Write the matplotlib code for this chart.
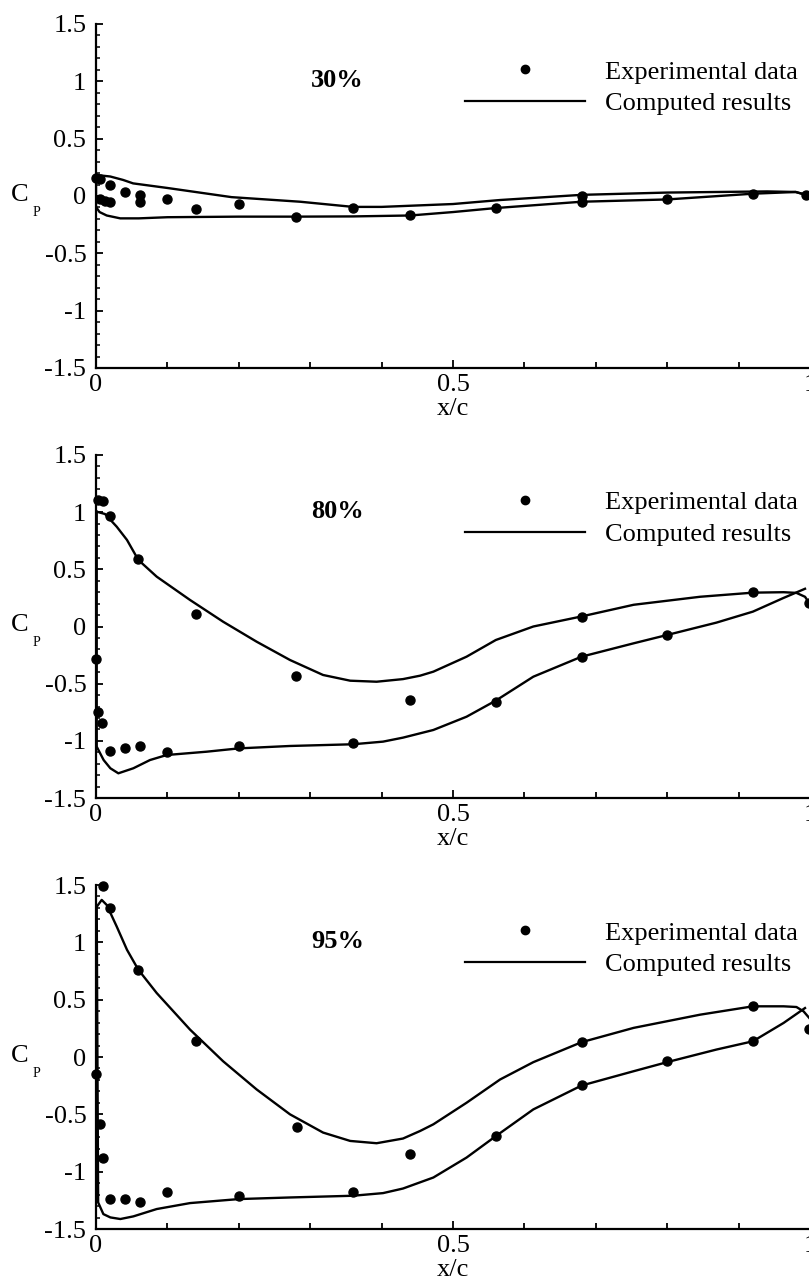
import matplotlib
matplotlib.use("Agg")
import matplotlib.pyplot as plt
from matplotlib.ticker import MultipleLocator, FixedLocator
from matplotlib.lines import Line2D

plt.rcParams['font.family'] = ['Liberation Serif', 'DejaVu Serif']

# ---------------- data ----------------
titles = ["30%", "80%", "95%"]

# 30% span
exp30_x = [0.0, 0.005, 0.02, 0.04, 0.062, 0.062, 0.10, 0.14, 0.20, 0.28, 0.36, 0.44,
           0.56, 0.68, 0.68, 0.80, 0.92, 0.995, 0.005, 0.013, 0.02]
exp30_cp = [0.157, 0.15, 0.096, 0.035, 0.01, -0.05, -0.03, -0.11, -0.07, -0.18, -0.105, -0.17,
            -0.105, 0.0, -0.05, -0.03, 0.02, 0.01, -0.03, -0.04, -0.055]
up30_x = [1.0, 0.98, 0.94, 0.80, 0.68, 0.566, 0.50, 0.44, 0.40, 0.36, 0.286, 0.19, 0.10, 0.052, 0.038, 0.02, 0.005, 0.0]
up30_cp = [0.0, 0.035, 0.04, 0.03, 0.01, -0.035, -0.07, -0.085, -0.095, -0.095, -0.05, -0.01, 0.07, 0.11, 0.14, 0.17, 0.18, 0.18]
lo30_x = [0.0, 0.0, 0.005, 0.015, 0.034, 0.06, 0.10, 0.20, 0.28, 0.36, 0.44, 0.50, 0.56, 0.68, 0.80, 0.92, 0.98, 1.0]
lo30_cp = [0.18, -0.095, -0.14, -0.17, -0.195, -0.195, -0.185, -0.18, -0.18, -0.178, -0.17, -0.14, -0.105, -0.05, -0.03, 0.02, 0.035, 0.0]

# 80% span
exp80_x = [0.0, 0.003, 0.01, 0.02, 0.059, 0.14, 0.28, 0.44, 0.003, 0.009, 0.02, 0.04, 0.061,
           0.10, 0.20, 0.36, 0.56, 0.68, 0.68, 0.80, 0.92, 0.998]
exp80_cp = [-0.28, 1.11, 1.10, 0.966, 0.587, 0.109, -0.433, -0.643, -0.745, -0.847, -1.086, -1.066, -1.045,
            -1.095, -1.045, -1.016, -0.657, 0.08, -0.264, -0.074, 0.299, 0.203]
up80_x = [0.9985, 0.993, 0.981, 0.963, 0.92, 0.846, 0.753, 0.68, 0.6125, 0.56, 0.519, 0.4725, 0.454, 0.430,
          0.393, 0.356, 0.318, 0.2717, 0.225, 0.178, 0.1317, 0.085, 0.0593, 0.0434, 0.029, 0.0126, 0.001]
up80_cp = [0.21, 0.26, 0.294, 0.30, 0.296, 0.26, 0.19, 0.088, 0.0, -0.118, -0.264, -0.395, -0.43, -0.46,
           -0.483, -0.474, -0.424, -0.293, -0.133, 0.042, 0.232, 0.436, 0.582, 0.757, 0.873, 0.984, 1.004]
lo80_x = [0.001, 0.001, 0.0107, 0.0201, 0.0313, 0.0523, 0.0756, 0.099, 0.155, 0.20, 0.2717, 0.36, 0.402, 0.430,
          0.4725, 0.519, 0.56, 0.6125, 0.68, 0.753, 0.80, 0.869, 0.92, 0.963, 0.993]
lo80_cp = [1.004, -1.051, -1.168, -1.240, -1.284, -1.240, -1.168, -1.124, -1.095, -1.066, -1.045, -1.030, -1.007, -0.972,
           -0.905, -0.789, -0.648, -0.439, -0.264, -0.147, -0.074, 0.034, 0.13, 0.25, 0.33]

# 95% span
exp95_x = [0.01, 0.02, 0.059, 0.14, 0.2815, 0.44, 0.0, 0.005, 0.01, 0.02, 0.04, 0.061, 0.10, 0.20, 0.36,
           0.56, 0.68, 0.68, 0.80, 0.92, 0.92, 0.998]
exp95_cp = [1.49, 1.297, 0.761, 0.143, -0.61, -0.848, -0.152, -0.587, -0.877, -1.239, -1.239, -1.268, -1.181, -1.21, -1.181,
            -0.688, 0.129, -0.248, -0.036, 0.442, 0.138, 0.245]
up95_x = [0.999, 0.991, 0.981, 0.963, 0.92, 0.846, 0.753, 0.68, 0.6125, 0.566, 0.519, 0.4725, 0.454, 0.430,
          0.393, 0.356, 0.318, 0.2717, 0.225, 0.178, 0.1317, 0.085, 0.0593, 0.0434, 0.029, 0.015, 0.008, 0.001]
up95_cp = [0.34, 0.398, 0.436, 0.442, 0.442, 0.369, 0.254, 0.129, -0.045, -0.196, -0.399, -0.587, -0.645, -0.711,
           -0.752, -0.732, -0.659, -0.50, -0.283, -0.037, 0.239, 0.558, 0.761, 0.935, 1.138, 1.326, 1.37, 1.31]
lo95_x = [0.001, 0.002, 0.003, 0.0103, 0.0201, 0.0341, 0.0523, 0.085, 0.1317, 0.20, 0.2717, 0.36, 0.402, 0.430,
          0.4725, 0.519, 0.5602, 0.6125, 0.68, 0.753, 0.8016, 0.869, 0.92, 0.963, 0.993]
lo95_cp = [1.31, 0.0, -1.268, -1.370, -1.399, -1.413, -1.39, -1.326, -1.274, -1.239, -1.225, -1.210, -1.187, -1.147,
           -1.051, -0.877, -0.689, -0.457, -0.249, -0.124, -0.042, 0.065, 0.137, 0.297, 0.427]

panels = [
    (exp30_x, exp30_cp, up30_x, up30_cp, lo30_x, lo30_cp),
    (exp80_x, exp80_cp, up80_x, up80_cp, lo80_x, lo80_cp),
    (exp95_x, exp95_cp, up95_x, up95_cp, lo95_x, lo95_cp),
]

legend_labels = ["Experimental data", "Computed results"]
xtick_values = [0, 0.5, 1]
xtick_labels = ["0", "0.5", "1"]
ytick_values = [-1.5, -1, -0.5, 0, 0.5, 1, 1.5]
ytick_labels = ["-1.5", "-1", "-0.5", "0", "0.5", "1", "1.5"]

# ---------------- figure ----------------
W, H = 809, 1281
fig = plt.figure(figsize=(W / 100, H / 100), dpi=100)

boxes = [(24, 368), (455, 798), (885, 1229)]  # pixel top, bottom
left_px, right_px = 96, 810
FS = 19

for i, ((ex, ecp, ux, ucp, lx, lcp), (tp, bt)) in enumerate(zip(panels, boxes)):
    ax = fig.add_axes([left_px / W, 1 - bt / H, (right_px - left_px) / W, (bt - tp) / H])
    ax.set_xlim(0, 1)
    ax.set_ylim(-1.5, 1.5)
    for s in ['top', 'right']:
        ax.spines[s].set_visible(False)
    for s in ['left', 'bottom']:
        ax.spines[s].set_linewidth(1.6)
    ax.patch.set_alpha(0)

    ax.plot(ux, ucp, color='black', lw=1.7, solid_joinstyle='round')
    ax.plot(lx, lcp, color='black', lw=1.7, solid_joinstyle='round')
    ax.plot(ex, ecp, 'o', color='black', ms=6.5, clip_on=False)

    ax.xaxis.set_major_locator(FixedLocator(xtick_values))
    ax.set_xticklabels(xtick_labels)
    ax.xaxis.set_minor_locator(MultipleLocator(0.1))
    ax.yaxis.set_major_locator(FixedLocator(ytick_values))
    ax.set_yticklabels(ytick_labels)
    ax.yaxis.set_minor_locator(MultipleLocator(0.1))
    ax.tick_params(axis='both', which='both', direction='in', color='black')
    ax.tick_params(axis='x', which='major', length=6, width=1.3, pad=4, labelsize=FS)
    ax.tick_params(axis='x', which='minor', length=4, width=1.3)
    ax.tick_params(axis='y', which='major', length=5, width=1.3, pad=7, labelsize=FS)
    ax.tick_params(axis='y', which='minor', length=3, width=1.1)

    ax.set_xlabel("x/c", fontsize=FS, labelpad=1.5)
    ax.text(-0.1064, 0.503, "C", transform=ax.transAxes,
            fontsize=19, ha='center', va='center')
    ax.text(-0.084, 0.452, "P", transform=ax.transAxes,
            fontsize=10, ha='center', va='center')
    ax.text(0.338, 0.836, titles[i], transform=ax.transAxes, fontsize=19,
            fontweight='bold', ha='center', va='center')

    handles = [Line2D([], [], marker='o', color='black', ls='none', ms=6),
               Line2D([], [], color='black', lw=1.6)]
    ax.legend(handles, legend_labels, loc='upper left', bbox_to_anchor=(0.517, 0.895),
              frameon=False, fontsize=FS, handlelength=4.55, handletextpad=0.75,
              labelspacing=0.3, borderpad=0, borderaxespad=0, numpoints=1)

fig.savefig("out.png", dpi=100)
